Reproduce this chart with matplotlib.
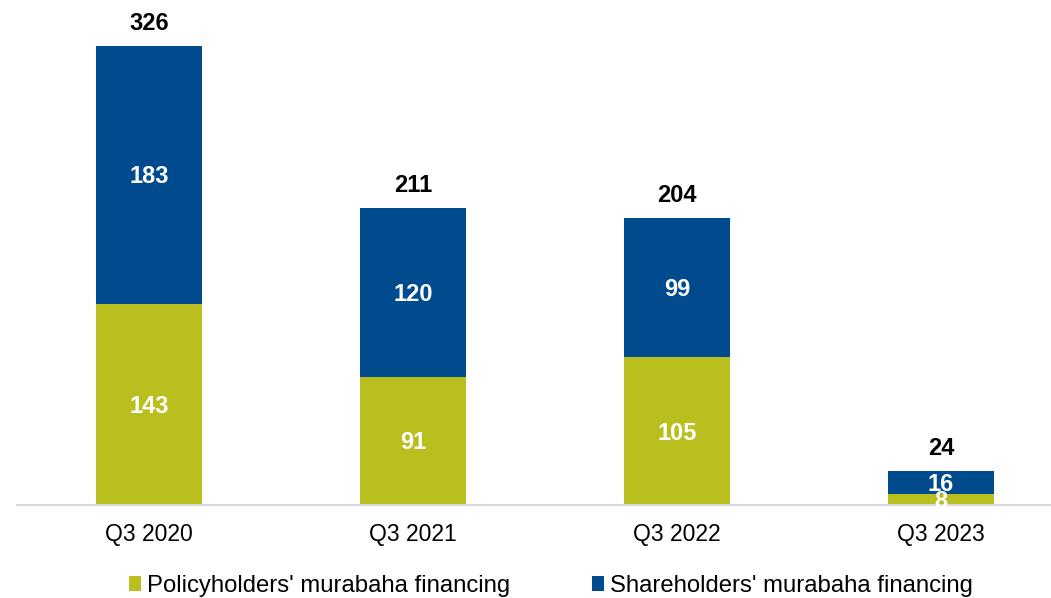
import matplotlib
matplotlib.use("Agg")
import matplotlib.pyplot as plt
from matplotlib.patches import Patch

plt.rcParams['font.family'] = ['Liberation Sans', 'DejaVu Sans']

categories = ["Q3 2020", "Q3 2021", "Q3 2022", "Q3 2023"]
policyholders = [143, 91, 105, 8]
shareholders = [183, 120, 99, 16]
totals = [p + s for p, s in zip(policyholders, shareholders)]

green = "#B8BF1E"
blue = "#004B8D"

fig = plt.figure(figsize=(10.51, 5.98), dpi=100)
ax = fig.add_axes([17 / 1051, 93 / 598, 1 - 17 / 1051, 505 / 598])

x = list(range(len(categories)))
w = 0.405
ax.bar(x, policyholders, width=w, color=green, zorder=2)
ax.bar(x, shareholders, width=w, bottom=policyholders, color=blue, zorder=2)

fs = 17
half_digit = -0.716 * fs / 2  # shift baseline so digits sit centred on the point

for xi, p, s, t in zip(x, policyholders, shareholders, totals):
    ax.annotate(str(p), (xi, p / 2), xytext=(0, half_digit), textcoords="offset points",
                ha="center", va="baseline", color="white",
                fontsize=fs, fontweight="bold", zorder=3)
    ax.annotate(str(s), (xi, p + s / 2), xytext=(0, half_digit), textcoords="offset points",
                ha="center", va="baseline", color="white",
                fontsize=fs, fontweight="bold", zorder=3)
    ax.annotate(str(t), (xi, t), xytext=(0, 11.5), textcoords="offset points",
                ha="center", va="baseline", color="black",
                fontsize=fs, fontweight="bold")

ax.set_xlim(-0.5, (1051 - 17) / 264 - 0.5)
ax.set_ylim(0, 505 / (459 / 326))
ax.set_xticks(x)
ax.set_xticklabels(categories, fontsize=16.5)
ax.tick_params(axis="x", length=0, pad=13)
ax.set_yticks([])
for side in ("top", "right", "left"):
    ax.spines[side].set_visible(False)
ax.spines["bottom"].set_color("#D9D9D9")
ax.spines["bottom"].set_linewidth(1.5)
ax.patch.set_alpha(0)

handles = [Patch(facecolor=green, label="Policyholders' murabaha financing"),
           Patch(facecolor=blue, label="Shareholders' murabaha financing")]
fig.legend(handles=handles, loc="center", bbox_to_anchor=(551 / 1051, 1 - 586 / 598),
           ncol=2, frameon=False, fontsize=17.2, handlelength=0.52, handleheight=0.56,
           handletextpad=0.26, columnspacing=3.4, borderaxespad=0)

fig.savefig("out.png", dpi=100)
